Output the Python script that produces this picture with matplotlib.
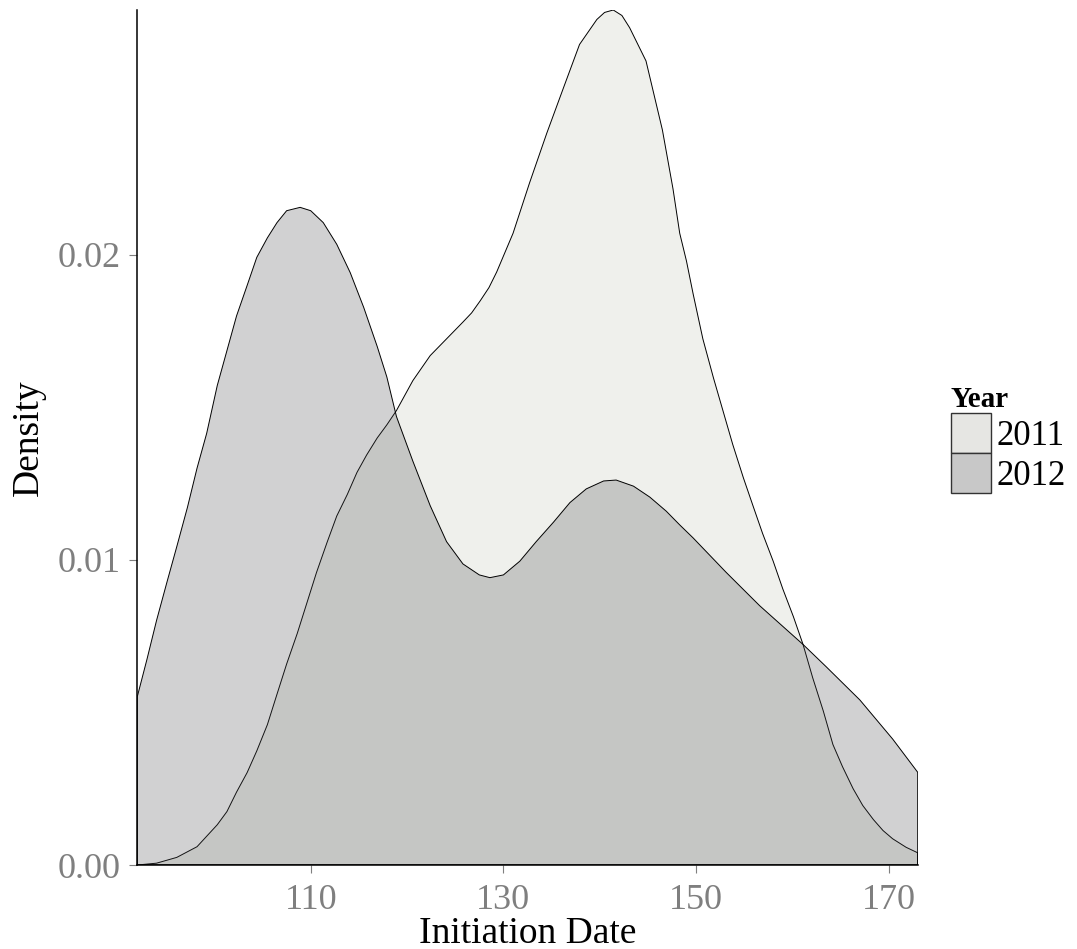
import matplotlib
matplotlib.use("Agg")
import matplotlib.pyplot as plt
from matplotlib.patches import Patch

plt.rcParams['font.family'] = ['Liberation Serif', 'DejaVu Serif']

# ---- data ----
years = ["2011", "2012"]

x_2011 = [92.0, 94.0, 96.1, 98.2, 100.3, 101.3, 102.3, 103.4, 104.4, 105.5,
          106.5, 107.5, 108.6, 109.6, 110.6, 111.7, 112.7, 113.8, 114.8, 115.8,
          116.9, 117.9, 118.9, 120.6, 122.4, 124.1, 125.8, 126.7, 127.6, 128.5,
          129.3, 131.0, 132.7, 134.5, 136.2, 137.9, 139.7, 140.5, 141.4, 142.3,
          143.1, 144.8, 146.5, 147.6, 148.3, 149.0, 149.7, 150.7, 151.8, 152.8,
          153.8, 154.9, 155.9, 156.9, 158.0, 159.0, 160.1, 161.1, 162.1, 163.2,
          164.2, 165.2, 166.3, 167.3, 168.4, 169.4, 170.4, 171.8, 173.0]
y_2011 = [0.00000, 0.00006, 0.00025, 0.00060, 0.00132, 0.00175, 0.00239, 0.00303, 0.00374, 0.00460,
          0.00560, 0.00659, 0.00759, 0.00859, 0.00959, 0.01058, 0.01144, 0.01215, 0.01287, 0.01344,
          0.01400, 0.01443, 0.01490, 0.01588, 0.01670, 0.01725, 0.01780, 0.01810, 0.01850, 0.01893,
          0.01944, 0.02071, 0.02235, 0.02399, 0.02545, 0.02690, 0.02772, 0.02795, 0.02803, 0.02785,
          0.02745, 0.02636, 0.02410, 0.02217, 0.02071, 0.01980, 0.01871, 0.01725, 0.01597, 0.01488,
          0.01379, 0.01270, 0.01178, 0.01087, 0.00996, 0.00905, 0.00814, 0.00723, 0.00614, 0.00505,
          0.00395, 0.00322, 0.00250, 0.00195, 0.00149, 0.00113, 0.00086, 0.00058, 0.00040]

x_2012 = [92.0, 93.0, 94.0, 95.1, 96.1, 97.2, 98.2, 99.2, 100.3, 101.3,
          102.3, 103.4, 104.4, 105.5, 106.5, 107.5, 108.9, 110.0, 111.3, 112.7,
          114.1, 115.5, 116.9, 117.9, 118.9, 120.6, 122.4, 124.1, 125.8, 127.5,
          128.6, 130.0, 131.7, 133.4, 135.2, 136.9, 138.6, 140.4, 141.7, 143.5,
          145.2, 146.9, 148.3, 149.7, 153.1, 156.6, 161.1, 163.5, 167.0, 170.4,
          173.0]
y_2012 = [0.00552, 0.00674, 0.00802, 0.00930, 0.01044, 0.01172, 0.01301, 0.01415, 0.01572, 0.01686,
          0.01800, 0.01900, 0.01992, 0.02056, 0.02106, 0.02145, 0.02156, 0.02145, 0.02106, 0.02035,
          0.01942, 0.01828, 0.01700, 0.01600, 0.01470, 0.01324, 0.01178, 0.01060, 0.00987, 0.00951,
          0.00942, 0.00951, 0.00996, 0.01060, 0.01124, 0.01188, 0.01233, 0.01259, 0.01262, 0.01242,
          0.01206, 0.01160, 0.01115, 0.01072, 0.00960, 0.00850, 0.00723, 0.00650, 0.00541, 0.00413,
          0.00304]

x_ticks = [110, 130, 150, 170]
y_ticks = [0.00, 0.01, 0.02]
y_tick_labels = ["0.00", "0.01", "0.02"]

# ---- figure ----
W, H = 1077, 949
fig = plt.figure(figsize=(W / 100, H / 100), dpi=100)
L, R, B, T = 137.3, 917.7, 865.0, 10.0
ax = fig.add_axes([L / W, 1 - B / H, (R - L) / W, (B - T) / H])

fill_2011 = "#EFF0EC"
fill_2012 = (75 / 255, 75 / 255, 79 / 255, 0.25)

ax.fill([x_2011[0]] + x_2011 + [x_2011[-1]], [0] + y_2011 + [0],
        facecolor=fill_2011, edgecolor="black", linewidth=0.7,
        joinstyle="round", zorder=2)
ax.fill([x_2012[0]] + x_2012 + [x_2012[-1]], [0] + y_2012 + [0],
        facecolor=fill_2012, edgecolor="black", linewidth=0.7,
        joinstyle="round", zorder=3)

ax.set_xlim(92, 173)
ax.set_ylim(0, 0.02803)

for s in ["top", "right"]:
    ax.spines[s].set_visible(False)
for s in ["left", "bottom"]:
    ax.spines[s].set_color("black")
    ax.spines[s].set_linewidth(1.1)
    ax.spines[s].set_zorder(5)

ax.set_xticks(x_ticks)
ax.set_xticklabels([str(v) for v in x_ticks])
ax.set_yticks(y_ticks)
ax.set_yticklabels(y_tick_labels)
ax.tick_params(axis="both", colors="#7F7F7F", labelcolor="#7F7F7F",
               length=5.8, width=0.8, labelsize=26)
ax.tick_params(axis="x", pad=7.9)
ax.tick_params(axis="y", pad=6.0)

fig.text(527.5 / W, 6 / H, "Initiation Date", ha="center", va="baseline",
         fontsize=27, color="black")
fig.text(29 / W, 1 - 437.5 / H, "Density", ha="center", va="center",
         rotation=90, fontsize=27, color="black")

handles = [Patch(facecolor="#E6E6E3", edgecolor="#333333", linewidth=1.0),
           Patch(facecolor="#C8C8C8", edgecolor="#333333", linewidth=1.0)]
leg = fig.legend(handles, years, loc="upper left",
                 bbox_to_anchor=(950.7 / W, 1 - 386 / H),
                 frameon=False, fontsize=25, title="Year",
                 title_fontproperties={"weight": "bold", "size": 21},
                 handlelength=40 / 34.7, handleheight=1.397,
                 handletextpad=0.17, labelspacing=0.0, borderpad=0.0,
                 borderaxespad=0.0, alignment="left")

fig.savefig("out.png", dpi=100)
